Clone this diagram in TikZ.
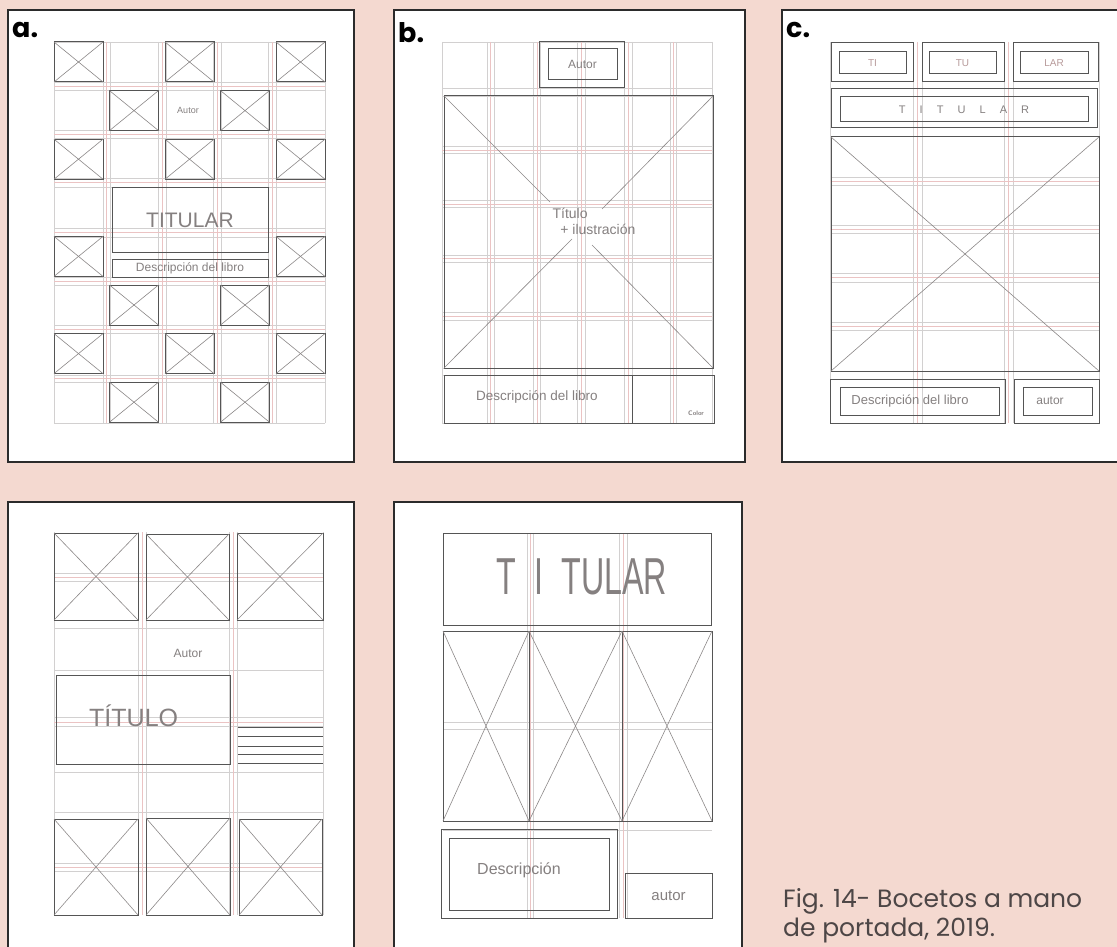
\documentclass[tikz,border=0pt]{standalone}
\usepackage{fontspec}
\usepackage{graphicx}
\setmainfont{Liberation Sans}
\newfontfamily\capfont{Poppins}
\newfontfamily\handfont{Liberation Sans}
\definecolor{bgpink}{HTML}{F4D9D0}
\definecolor{framegray}{HTML}{2B2B2B}
\definecolor{pencilgray}{HTML}{555555}
\definecolor{diaggray}{HTML}{8C8888}
\definecolor{guidegray}{HTML}{D2D0D0}
\definecolor{guidered}{HTML}{EBC3C3}
\definecolor{handgray}{HTML}{858080}
\definecolor{handpink}{HTML}{B79A9A}
\definecolor{capgray}{HTML}{4D4646}
\newcommand{\crossbox}[4]{\draw[pencil] (#1,#2) rectangle (#3,#4);
  \draw[diag] (#1,#2) -- (#3,#4) (#1,#4) -- (#3,#2);}
\begin{document}
\begin{tikzpicture}[x=1pt,y=-1pt,
  panel/.style={draw=framegray,line width=2pt,fill=white},
  pencil/.style={draw=pencilgray,line width=1pt},
  diag/.style={draw=diaggray,line width=0.6pt},
  guide/.style={draw=guidegray,line width=0.5pt},
  redguide/.style={draw=guidered,line width=0.5pt},
  hand/.style={text=handgray,inner sep=0pt,font=\handfont},
  tag/.style={font=\capfont\bfseries\fontsize{27}{27}\selectfont,anchor=north west,inner sep=0pt},
  caption/.style={font=\capfont\fontsize{25}{25}\selectfont,text=capgray,anchor=base west,inner sep=0pt}]
\fill[bgpink] (0,0) rectangle (1117,947);
\useasboundingbox (0,0) rectangle (1117,947);

\draw[panel] (8,10) rectangle (354,462);
\draw[panel] (394,10) rectangle (745,462);
\draw[panel] (782,10) rectangle (1125,462);
\draw[panel] (8,502) rectangle (354,955);
\draw[panel] (394,502) rectangle (742,955);
\node[tag] (tagA) at (12,22) {a.};
\node[tag] (tagB) at (398,22) {b.};
\node[tag] (tagC) at (786,22) {c.};

% a.
\foreach \x in {54,103,110,158,166,213,221,268,276,325} \draw[guide] (\x,42) -- (\x,423);
\foreach \y in {42,82,90,130,138,178,187,228,237,277,285,325,333,375,382,423} \draw[guide] (54,\y) -- (325,\y);
\foreach \x in {106,162,217,272} \draw[redguide] (\x,42) -- (\x,423);
\foreach \y in {86,134,182,232,281,329,378} \draw[redguide] (54,\y) -- (325,\y);
\foreach \c/\r in {0/0,2/0,4/0,1/1,3/1,0/2,2/2,4/2,0/4,4/4,1/5,3/5,0/6,2/6,4/6,1/7,3/7}
  {\crossbox{54+55.5*\c}{42+48.6*\r}{103+55.5*\c}{82+48.6*\r}}
\node[hand,font=\handfont\fontsize{9}{9}\selectfont] (autA) at (188,110) {Autor};
\draw[pencil] (112,188) rectangle (268,252) node[pos=.5,hand,font=\handfont\fontsize{21}{21}\selectfont] (titA) {TITULAR};
\draw[pencil] (112,259) rectangle (268,277) node[pos=.5,hand,font=\handfont\fontsize{12}{12}\selectfont] (desA) {Descripción del libro};

% b.
\foreach \x in {442,487,494,533,540,577,585,624,632,670,676,712} \draw[guide] (\x,42) -- (\x,423);
\foreach \y in {42,88,96,146,153,200,207,255,262,312,320,368,375,423} \draw[guide] (442,\y) -- (712,\y);
\foreach \x in {490,537,581,628,673} \draw[redguide] (\x,42) -- (\x,423);
\foreach \y in {150,204,258,316} \draw[redguide] (442,\y) -- (712,\y);
\draw[pencil] (539,42) rectangle (624,88);
\draw[pencil] (548,49) rectangle (617,80) node[pos=.5,hand,font=\handfont\fontsize{12}{12}\selectfont] (autB) {Autor};
\draw[pencil] (444,96) rectangle (713,368);
\node[hand,align=left,font=\handfont\fontsize{14}{16}\selectfont] (titB) at (594,221) {Título\\\ \ + ilustración};
\draw[diag] (444,96) -- (550,202);
\draw[diag] (713,96) -- (602,209);
\draw[diag] (444,368) -- (572,239);
\draw[diag] (713,368) -- (592,245);
\draw[pencil] (444,375) rectangle (714,423);
\draw[pencil] (632,375) -- (632,423);
\node[hand,font=\handfont\fontsize{13.5}{13.5}\selectfont] (desB) at (537,397) {Descripción del libro};
\node[hand,font=\sffamily\bfseries\fontsize{6.5}{7}\selectfont] (colB) at (696,413) {Color};

% c.
\foreach \x in {830,913,922,1004,1013,1099} \draw[guide] (\x,42) -- (\x,423);
\foreach \y in {177,185,225,233,273,282,322,330} \draw[guide] (830,\y) -- (1099,\y);
\foreach \x in {917,1008} \draw[redguide] (\x,42) -- (\x,423);
\foreach \y in {181,229,277,326} \draw[redguide] (830,\y) -- (1099,\y);
\draw[pencil] (831,43) rectangle (913,82);
\draw[pencil] (922,43) rectangle (1004,82);
\draw[pencil] (1013,43) rectangle (1098,82);
\draw[pencil] (839,52) rectangle (906,74) node[pos=.5,hand,text=handpink,font=\handfont\fontsize{10}{10}\selectfont] (tiC) {TI};
\draw[pencil] (929,52) rectangle (996,74) node[pos=.5,hand,text=handpink,font=\handfont\fontsize{10}{10}\selectfont] (tuC) {TU};
\draw[pencil] (1020,52) rectangle (1088,74) node[pos=.5,hand,text=handpink,font=\handfont\fontsize{10}{10}\selectfont] (larC) {LAR};
\draw[pencil] (831,89) rectangle (1097,128);
\draw[pencil] (840,97) rectangle (1088,122) node[pos=.5,hand,font=\handfont\fontsize{11}{11}\selectfont] (titC) {T\quad\ I\quad\ T\quad\ U\quad\ L\quad\ A\quad\ R};
\crossbox{831}{137}{1099}{371}
\draw[pencil] (830,379) rectangle (1005,423);
\draw[pencil] (840,387) rectangle (999,415);
\node[hand,font=\handfont\fontsize{13}{13}\selectfont] (desC) at (910,401) {Descripción del libro};
\draw[pencil] (1014,379) rectangle (1099,423);
\draw[pencil] (1023,387) rectangle (1092,415);
\node[hand,font=\handfont\fontsize{12}{12}\selectfont] (autC) at (1050,401) {autor};

% d.
\foreach \x in {54,138,146,229,237,323} \draw[guide] (\x,532) -- (\x,915);
\foreach \y in {573,581,628,670,717,726,772,812,863,871} \draw[guide] (54,\y) -- (323,\y);
\foreach \x in {142,233} \draw[redguide] (\x,532) -- (\x,915);
\foreach \y in {577,722,867} \draw[redguide] (54,\y) -- (323,\y);
\crossbox{54}{533}{138}{620}
\crossbox{146}{534}{229}{620}
\crossbox{237}{533}{323}{620}
\node[hand,font=\handfont\fontsize{12}{12}\selectfont] (autD) at (188,653) {Autor};
\draw[pencil] (56,675) rectangle (230,764);
\node[hand,anchor=west,font=\handfont\fontsize{25}{25}\selectfont] (titD) at (89,716) {TÍTULO};
\foreach \y in {727,736,746,754,763} \draw[pencil,line width=0.7pt] (238,\y) -- (323,\y);
\crossbox{54}{819}{138}{915}
\crossbox{146}{818}{230}{915}
\crossbox{239}{819}{322}{915}

% e.
\foreach \x in {527,533,619,627} \draw[guide] (\x,533) -- (\x,918);
\foreach \y in {722,729,830} \draw[guide] (443,\y) -- (712,\y);
\foreach \x in {530,623} \draw[redguide] (\x,533) -- (\x,918);
\draw[pencil] (443,533) rectangle (711,625);
\node[hand,font=\handfont\fontsize{52}{52}\selectfont] (titE) at (582,577) {\scalebox{0.62}[1]{T\ \ I\ \ TULAR}};
\crossbox{443}{631}{529}{821}
\crossbox{529}{631}{622}{821}
\crossbox{622}{631}{712}{821}
\draw[pencil] (441,829) rectangle (617,918);
\draw[pencil] (449,838) rectangle (609,910);
\node[hand,font=\handfont\fontsize{16}{16}\selectfont] (desE) at (519,870) {Descripción};
\draw[pencil] (625,873) rectangle (712,918) node[pos=.5,hand,font=\handfont\fontsize{15}{15}\selectfont] (autE) {autor};

\node[caption] (capA) at (783,907) {Fig. 14- Bocetos a mano};
\node[caption] (capB) at (783,936) {de portada, 2019.};
\end{tikzpicture}
\end{document}
